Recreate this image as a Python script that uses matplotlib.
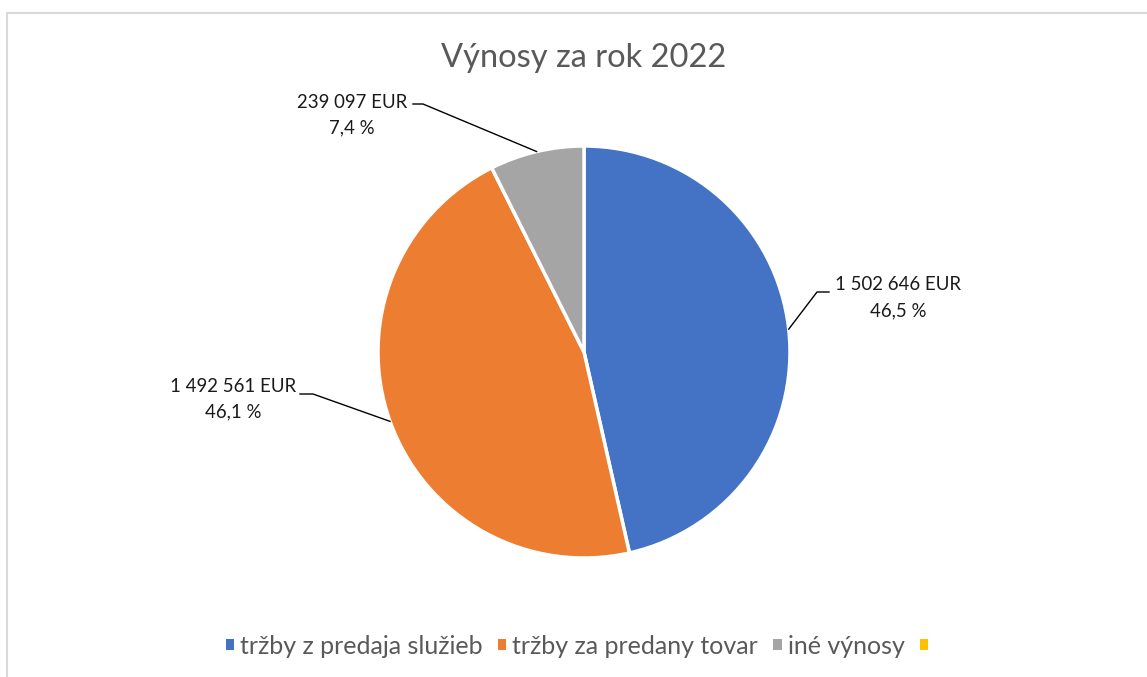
import numpy as np
import matplotlib
matplotlib.use("Agg")
import matplotlib.pyplot as plt
from matplotlib.patches import Rectangle, Patch

plt.rcParams['font.family'] = ['Lato', 'DejaVu Sans']

# data
categories = ["tržby z predaja služieb", "tržby za predany tovar", "iné výnosy", ""]
values = [1502646, 1492561, 239097]
colors = ["#4472C4", "#ED7D31", "#A5A5A5", "#FFC000"]
title = "Výnosy za rok 2022"

W, H = 1147, 677
fig = plt.figure(figsize=(W / 100, H / 100), dpi=100)
# axes in pixel units (y converted from top-down pixel positions)
ax = fig.add_axes([0, 0, 1, 1])

def py(y):
	return H - y

cx, cy, r = 584, 352, 206
wedges, _ = ax.pie(values, colors=colors[:3], startangle=90, counterclock=False,
				   center=(cx, py(cy)), radius=r,
				   wedgeprops=dict(edgecolor="white", linewidth=2.5))
ax.set_xlim(0, W)
ax.set_ylim(0, H)
ax.set_aspect('equal')
ax.axis('off')

# chart frame (light gray, cut at right and bottom like the reference)
fig.patches.append(Rectangle((7.5 / W, -0.1), 2, (H - 12.5) / H + 0.1,
							 transform=fig.transFigure, fill=False,
							 edgecolor="#D9D9D9", linewidth=1.5))

fig.text(584 / W, 1 - 58 / H, title, ha="center", va="center",
		 fontsize=23.5, color="#595959")

total = float(sum(values))

def fmt_val(v):
	return "{:,}".format(v).replace(",", " ") + " EUR"

def fmt_pct(v):
	return "{:.1f}".format(100 * v / total).replace(".", ",") + " %"

# label layout: (text x, first-line y, alignment, elbow x, elbow y, line end x)
label_pos = [
	(835, 285, "left", 817, 292, 829),
	(296, 386, "right", 313, 394, 300),
	(407, 102, "right", 423, 104, 413),
]

fig.canvas.draw()
for w, v, (tx, ty, ha, ex, ey, lx) in zip(wedges, values, label_pos):
	mid = np.deg2rad(0.5 * (w.theta1 + w.theta2))
	ax_x = cx + r * np.cos(mid)
	ax_y = py(cy) + r * np.sin(mid)
	ax.plot([ax_x, ex, lx], [ax_y, py(ey), py(ey)], color="black", lw=1)
	t1 = ax.text(tx, py(ty), fmt_val(v), ha=ha, va="center", fontsize=13.4, color="#1a1a1a")
	bb = t1.get_window_extent(renderer=fig.canvas.get_renderer())
	mx = ax.transData.inverted().transform((0.5 * (bb.x0 + bb.x1), 0))[0]
	ax.text(mx, py(ty + 26), fmt_pct(v), ha="center", va="center", fontsize=13.4, color="#1a1a1a")

handles = [Patch(facecolor=c, edgecolor="none") for c in colors]
fig.legend(handles, categories, loc="center", bbox_to_anchor=(580 / W, 1 - 646 / H),
		   ncol=4, frameon=False, fontsize=18, handlelength=0.33, handleheight=0.33,
		   handletextpad=0.25, columnspacing=0.6, labelcolor="#595959")

fig.savefig("out.png", dpi=100)
